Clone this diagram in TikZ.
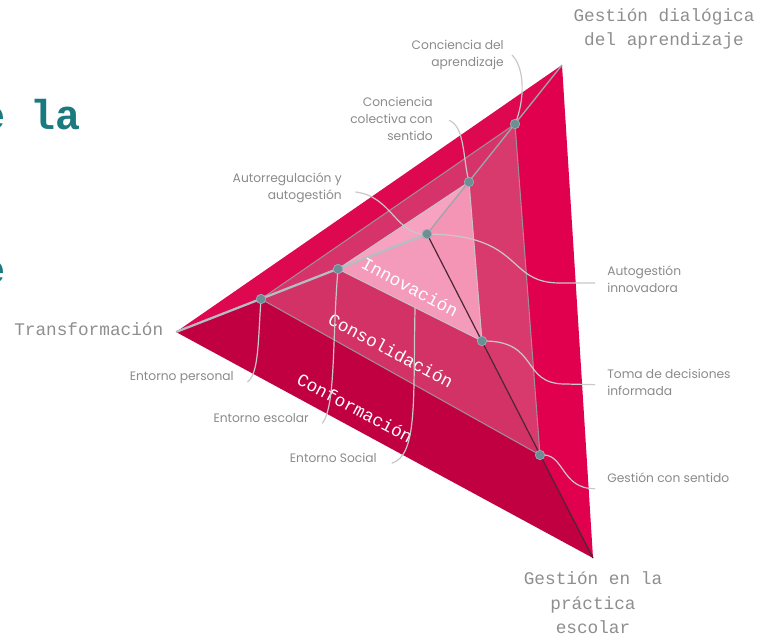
\documentclass[tikz,border=0pt]{standalone}
\usepackage{fontspec}
\setmainfont{Poppins}
\newfontfamily\monof{Liberation Mono}
\usetikzlibrary{calc}
\definecolor{outT}{HTML}{DE0850}
\definecolor{outR}{HTML}{E0004E}
\definecolor{outB}{HTML}{C00040}
\definecolor{midT}{HTML}{D5336A}
\definecolor{midR}{HTML}{D93A6D}
\definecolor{midB}{HTML}{D33266}
\definecolor{inT}{HTML}{F7A2C0}
\definecolor{inR}{HTML}{F595B5}
\definecolor{inB}{HTML}{F49ABA}
\definecolor{dotc}{HTML}{6C8F96}
\definecolor{leadc}{HTML}{C8C8C8}
\definecolor{txtg}{HTML}{8A8A8A}
\definecolor{monog}{HTML}{8E8E8E}
\definecolor{teal}{HTML}{1B7A80}
\definecolor{ridgeL}{HTML}{B3BEC3}
\definecolor{ridgeA}{HTML}{9CA5AA}
\definecolor{ridgeC}{HTML}{4A2733}
\definecolor{edgec}{HTML}{A08C96}
\definecolor{edgei}{HTML}{CDBFC5}
\tikzset{
  dotnode/.style={circle, fill=dotc, draw=dotc!70!white, line width=0.4pt, inner sep=0pt, minimum size=7pt},
  lead/.style={draw=leadc, line width=0.9pt},
  sanslab/.style={text=txtg, font=\fontsize{9.2}{12.75}\selectfont, inner sep=0pt},
  monolab/.style={text=monog, font=\monof\fontsize{13.3}{18.3}\selectfont, inner sep=0pt, align=center},
  bandlab/.style={text=white, font=\monof\fontsize{13.3}{16}\selectfont, inner sep=0pt, rotate=-28}
}
\begin{document}
\begin{tikzpicture}[x=0.75pt,y=-0.75pt]
\useasboundingbox (0,0) rectangle (762,635);
\clip (0,0) rectangle (762,635);
% vertices
\coordinate (A) at (562,65);
\coordinate (B) at (176,332);
\coordinate (C) at (593,558);
\coordinate (P) at (427,234);
\coordinate (A1) at (515,124);
\coordinate (B1) at (261,299);
\coordinate (C1) at (540,455);
\coordinate (A2) at (469,182);
\coordinate (B2) at (338,269);
\coordinate (C2) at (482,341);
% faces
\fill[outT] (A)--(B)--(B1)--(A1)--cycle;
\fill[outR] (A)--(C)--(C1)--(A1)--cycle;
\fill[outB] (B)--(C)--(C1)--(B1)--cycle;
\fill[midT] (A1)--(B1)--(B2)--(A2)--cycle;
\fill[midR] (A1)--(C1)--(C2)--(A2)--cycle;
\fill[midB] (B1)--(C1)--(C2)--(B2)--cycle;
\fill[inT] (A2)--(B2)--(P)--cycle;
\fill[inR] (A2)--(C2)--(P)--cycle;
\fill[inB] (B2)--(C2)--(P)--cycle;
% edges
\draw[edgec, line width=0.8pt] (A1)--(B1)--(C1)--cycle;
\draw[edgei, line width=0.8pt] (A2)--(B2)--(C2)--cycle;
\draw[ridgeA, line width=1pt] (A)--(P);
\draw[ridgeC, line width=0.9pt] (P)--(C);
\draw[ridgeL, line width=1.7pt] (B)--(P);
% top-left title fragments
\node[text=teal, font=\monof\bfseries\fontsize{31.3}{31.3}\selectfont, anchor=base west, inner sep=0pt] (t1) at (-20,129) {e la};
\node[text=teal, font=\monof\bfseries\fontsize{31.3}{31.3}\selectfont, anchor=base west, inner sep=0pt] (t2) at (-20,283) {e};
% band labels
\node[bandlab] (lInn) at (410,287) {Innovación};
\node[bandlab] (lCons) at (391,350) {Consolidación};
\node[bandlab] (lConf) at (355,408) {Conformación};
% corner labels
\node[monolab] (gDial) at (664,29) {Gestión dialógica\\del aprendizaje};
\node[monolab, anchor=west] (gTrans) at (14,329) {Transformación};
\node[monolab] (gPrac) at (593,603) {Gestión en la\\práctica\\escolar};
% side labels
\node[sanslab, align=right, anchor=east] (lConc) at (504,55) {Conciencia del\\aprendizaje};
\node[sanslab, align=right, anchor=east] (lColec) at (433,119) {Conciencia\\colectiva con\\sentido};
\node[sanslab, align=right, anchor=east] (lAuto) at (342,188) {Autorregulación y\\autogestión};
\node[sanslab, align=left, anchor=west] (lInnov) at (607,279) {Autogestión\\innovadora};
\node[sanslab, align=left, anchor=west] (lToma) at (607,382) {Toma de decisiones\\informada};
\node[sanslab, align=left, anchor=west] (lGcs) at (607,478) {Gestión con sentido};
\node[sanslab, align=right, anchor=east] (lPers) at (234,378) {Entorno personal};
\node[sanslab, align=right, anchor=east] (lEsc) at (309,418) {Entorno escolar};
\node[sanslab, align=right, anchor=east] (lSoc) at (377,458) {Entorno Social};
% dots
\node[dotnode] (dA1) at (A1) {};
\node[dotnode] (dB1) at (B1) {};
\node[dotnode] (dC1) at (C1) {};
\node[dotnode] (dA2) at (A2) {};
\node[dotnode] (dB2) at (B2) {};
\node[dotnode] (dC2) at (C2) {};
\node[dotnode] (dP) at (P) {};
\coordinate (sE) at ($(B2)!0.535!(C2)$);
% leaders
\begin{scope}[on background layer/.style={}]
\draw[lead] (dA1.center) .. controls (525,100) and (525,68) .. ([xshift=6pt]lConc.east);
\draw[lead] (dA2.center) .. controls (463,160) and (465,126) .. ([xshift=12pt,yshift=-1pt]lColec.east);
\draw[lead] (dP.center) .. controls (396,236) and (392,196) .. ([xshift=10pt,yshift=-3pt]lAuto.east);
\draw[lead] (dP.center) .. controls (525,235) and (505,283) .. (560,283) -- ([xshift=-9pt,yshift=-3pt]lInnov.west);
\draw[lead] (dC2.center) .. controls (540,340) and (520,384) .. (565,384) -- ([xshift=-9pt,yshift=-2pt]lToma.west);
\draw[lead] (dC1.center) .. controls (565,452) and (560,489) .. ([xshift=-9pt,yshift=-8pt]lGcs.west);
\draw[lead] (dB1.center) .. controls (258,340) and (259,374) .. ([xshift=10pt,yshift=-3pt]lPers.east);
\draw[lead] (dB2.center) .. controls (332,340) and (336,405) .. ([xshift=10pt,yshift=-4pt]lEsc.east);
\draw[lead] (sE) .. controls (413,400) and (418,455) .. ([xshift=11pt,yshift=-4pt]lSoc.east);
\end{scope}
% redraw dots on top
\node[dotnode] at (A1) {};
\node[dotnode] at (B1) {};
\node[dotnode] at (C1) {};
\node[dotnode] at (A2) {};
\node[dotnode] at (B2) {};
\node[dotnode] at (C2) {};
\node[dotnode] at (P) {};
\end{tikzpicture}
\end{document}
